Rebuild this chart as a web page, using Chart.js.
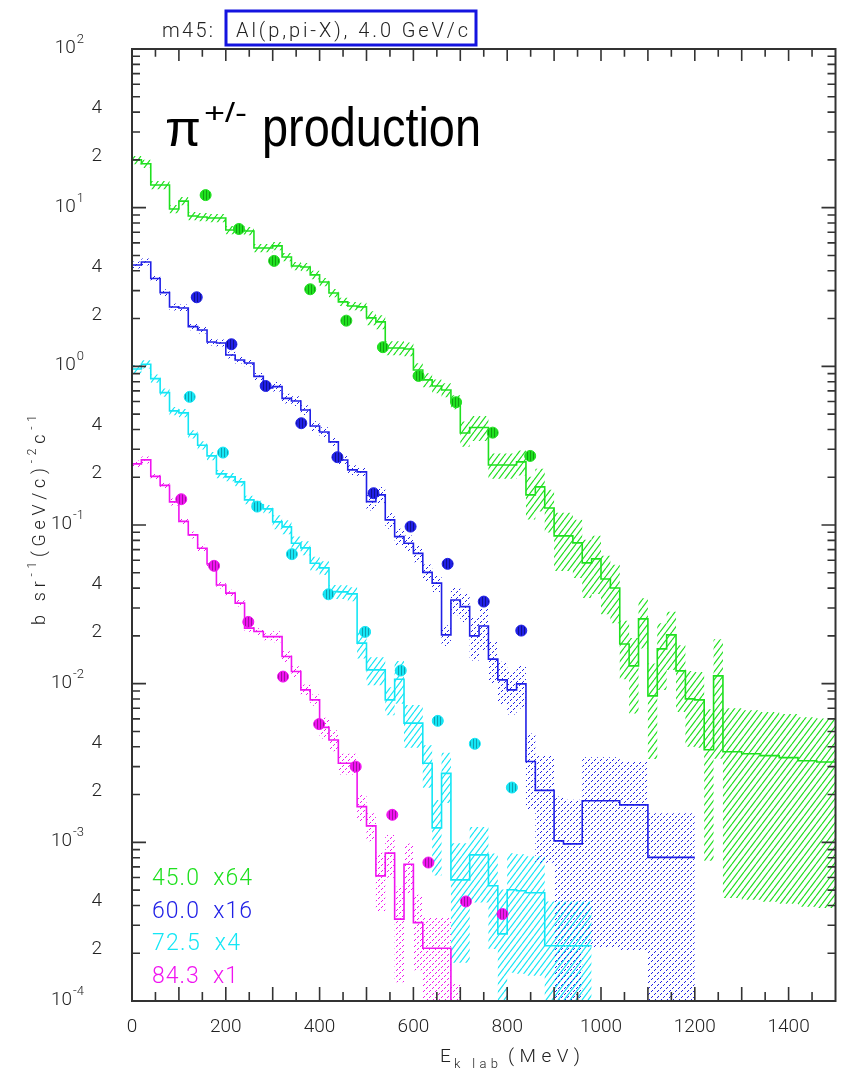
<!DOCTYPE html>
<html><head><meta charset="utf-8">
<script src="https://cdn.jsdelivr.net/npm/chart.js@4/dist/chart.umd.min.js"></script>
<style>html,body{margin:0;padding:0;background:#fff;}canvas{display:block;}</style>
</head><body>
<canvas id="c" width="842" height="1076"></canvas>
<script>
// ---------------- DATA ----------------
const xTickValues = [0, 200, 400, 600, 800, 1000, 1200, 1400];
const xTickLabels = ['0', '200', '400', '600', '800', '1000', '1200', '1400'];
const yDecadeExps = [-4, -3, -2, -1, 0, 1, 2];
const yMinorLabelMults = [2, 4];

const legendLabels = ['45.0  x64', '60.0  x16', '72.5  x4', '84.3  x1'];

// green: 45.0 deg x64
const greenEdges = [0,20,40,60,80,100,120,140,160,180,200,220,240,260,280,300,320,340,360,380,400,420,440,460,480,500,520,540,560,580,600,620,640,660,680,700,720,740,760,780,800,820,840,860,880,900,920,940,960,980,1000,1020,1040,1060,1080,1100,1120,1140,1160,1180,1200,1220,1240,1260,1300,1340,1380,1420,1460,1500];
const greenVals = [20.0,18.9,13.9,13.9,9.81,11.0,8.87,8.74,8.61,8.61,
  7.23,7.23,7.13,5.57,5.57,5.74,4.89,4.29,4.23,3.77,
  3.40,2.90,2.55,2.40,2.37,2.02,1.905,1.306,1.306,1.287,
  0.949,0.821,0.752,0.710,0.597,0.380,0.412,0.412,0.239,0.239,
  0.239,0.250,0.1548,0.1738,0.1281,0.0854,0.0854,0.0771,0.0577,0.0612,
  0.0457,0.0401,0.0178,0.01295,0.0256,0.00838,0.01657,0.0203,0.01204,0.00802,
  0.00790,0.00383,0.01120,0.00372,0.00362,0.00352,0.00342,0.00327,0.00321];
const greenErr = [0.06,0.06,0.06,0.06,0.06,0.06,0.06,0.06,0.06,0.06,
  0.06,0.06,0.06,0.06,0.06,0.06,0.06,0.06,0.06,0.06,
  0.06,0.06,0.06,0.06,0.06,0.1,0.1,0.1,0.1,0.1,
  0.1,0.1,0.1,0.1,0.1,0.18,0.18,0.18,0.18,0.18,
  0.18,0.18,0.3,0.3,0.3,0.4,0.4,0.4,0.4,0.4,
  0.4,0.4,0.4,0.5,0.35,0.6,0.45,0.4,0.45,0.5,
  0.5,0.8,0.7,0.88,0.88,0.88,0.88,0.88,0.88];
const greenPtsX = [157, 228, 303, 380, 457, 535, 611, 691, 769, 849];
const greenPtsY = [12.0, 7.34, 4.62, 3.06, 1.94, 1.32, 0.870, 0.594, 0.382, 0.2725];

// blue: 60.0 deg x16
const blueEdges = [0,20,40,60,80,100,120,140,160,180,200,220,240,260,280,300,320,340,360,380,400,420,440,460,480,500,520,540,560,580,600,620,640,660,680,700,720,740,760,780,800,820,840,860,880,900,920,940,960,980,1000,1020,1040,1060,1080,1100,1120,1140,1160,1180,1200];
const blueVals = [4.354,4.548,3.580,2.913,2.367,2.333,1.779,1.696,1.424,1.404,
  1.180,1.097,1.050,0.864,0.731,0.745,0.628,0.605,0.531,0.421,
  0.386,0.334,0.257,0.2225,0.2161,0.1404,0.1548,0.1077,0.0845,0.0768,
  0.0662,0.0503,0.0430,0.0203,0.0337,0.0306,0.0200,0.0231,0.01427,0.01056,
  0.00914,0.00997,0.00323,0.002126,0.002126,0.001022,0.000978,0.000978,0.001827,0.001827,
  0.001827,0.001827,0.001723,0.001723,0.001723,0.000804,0.000804,0.000804,0.000804,0.000804];
const blueErr = [0.05,0.05,0.05,0.05,0.05,0.05,0.05,0.05,0.05,0.05,
  0.05,0.05,0.05,0.05,0.05,0.07,0.07,0.07,0.07,0.07,
  0.07,0.07,0.07,0.07,0.07,0.12,0.12,0.12,0.12,0.12,
  0.12,0.12,0.12,0.15,0.2,0.2,0.3,0.3,0.3,0.3,
  0.3,0.3,0.5,0.65,0.65,0.9,0.9,0.9,0.88,0.88,
  0.88,0.88,0.88,0.88,0.88,0.9,0.9,0.9,0.9,0.9];
const bluePtsX = [138, 212, 285, 361, 438, 515, 594, 673, 750, 830];
const bluePtsY = [2.725, 1.378, 0.752, 0.438, 0.2675, 0.1586, 0.0977, 0.0569, 0.0329, 0.0216];

// cyan: 72.5 deg x4
const cyanEdges = [0,20,40,60,80,100,120,140,160,180,200,220,240,260,280,300,320,340,360,380,400,420,440,460,480,500,520,540,560,580,600,620,640,660,680,700,720,740,760,780,800,820,840,860,880,900,920,940,960,980];
const cyanVals = [0.963,1.031,0.837,0.683,0.5236,0.5086,0.3734,0.3183,0.2725,0.2099,
  0.2010,0.1869,0.1440,0.1339,0.1263,0.1046,0.0973,0.0768,0.0717,0.0574,
  0.0537,0.0380,0.0379,0.0368,0.0180,0.01222,0.01222,0.00790,0.01067,0.00564,
  0.00564,0.00315,0.001234,0.00272,0.000580,0.000580,0.000834,0.000834,0.000532,0.000265,
  0.000502,0.000495,0.000481,0.000481,0.000223,0.000223,0.000223,0.000223,0.000223];
const cyanErr = [0.06,0.06,0.06,0.06,0.06,0.06,0.06,0.06,0.06,0.06,
  0.06,0.06,0.06,0.06,0.06,0.1,0.1,0.1,0.1,0.1,
  0.1,0.1,0.1,0.1,0.2,0.2,0.2,0.2,0.3,0.3,
  0.3,0.3,0.5,0.35,0.7,0.7,0.5,0.5,0.6,0.9,
  0.7,0.7,0.7,0.7,0.9,0.9,0.9,0.9,0.9];
const cyanPtsX = [123, 194, 267, 341, 419, 497, 573, 652, 731, 810];
const cyanPtsY = [0.642, 0.286, 0.1306, 0.0655, 0.0366, 0.0212, 0.0121, 0.00583, 0.00418, 0.002215];

// magenta: 84.3 deg x1
const magentaEdges = [0,20,40,60,80,100,120,140,160,180,200,220,240,260,280,300,320,340,360,380,400,420,440,460,480,500,520,540,560,580,600,620,640,660,680,700];
const magentaVals = [0.2427,0.2572,0.2024,0.1776,0.1398,0.1054,0.0866,0.0714,0.0569,0.0419,
  0.0372,0.0322,0.0224,0.0213,0.0198,0.0198,0.01482,0.01192,0.00914,0.00790,
  0.00530,0.00442,0.00315,0.00315,0.00168,0.001270,0.000615,0.000855,0.000328,0.000727,
  0.000312,0.000215,0.000215,0.000215,0.00003];
const magentaErr = [0.05,0.05,0.05,0.05,0.05,0.05,0.05,0.05,0.05,0.05,
  0.05,0.05,0.05,0.05,0.05,0.08,0.08,0.08,0.08,0.08,
  0.15,0.15,0.15,0.15,0.2,0.2,0.4,0.3,0.6,0.35,
  0.5,0.55,0.55,0.55,3.3];
const magentaPtsX = [105, 175, 248, 322, 399, 477, 555, 632, 712, 790];
const magentaPtsY = [0.1454, 0.0553, 0.0245, 0.01108, 0.00556, 0.00300, 0.001491, 0.000746, 0.000424, 0.000353];

// ---------------- STYLE ----------------
const COL = { green:'#1fe01f', blue:'#2020e6', cyan:'#14e6f5', magenta:'#f014f0' };
const FONT = 'Roboto, "DejaVu Sans", sans-serif';

function makePattern(w, h, draw){
  const c=document.createElement('canvas'); c.width=w; c.height=h;
  draw(c.getContext('2d'));
  return document.createElement('canvas').getContext('2d').createPattern(c,'repeat');
}
function hatchPattern(color){
  return makePattern(6, 8, g=>{
    g.strokeStyle=color; g.lineWidth=1.2;
    for (const o of [-6,0,6]) { g.beginPath(); g.moveTo(o,8); g.lineTo(o+6,0); g.stroke(); }
  });
}
function dotPattern(color){
  return makePattern(6, 6, g=>{
    g.fillStyle=color;
    g.fillRect(0,4,1,1); g.fillRect(1,3,1,1);
    g.fillRect(3,1,1,1); g.fillRect(4,0,1,1);
  });
}
function stripePattern(color, dark){
  return makePattern(3, 3, g=>{
    g.fillStyle=color; g.fillRect(0,0,3,3);
    g.fillStyle=dark; g.fillRect(2,0,1,3);
  });
}

const series = [
  {edges:greenEdges, vals:greenVals, err:greenErr, px:greenPtsX, py:greenPtsY, color:COL.green, fill:hatchPattern(COL.green), dark:'#10a010'},
  {edges:blueEdges, vals:blueVals, err:blueErr, px:bluePtsX, py:bluePtsY, color:COL.blue, fill:dotPattern(COL.blue), dark:'#101090'},
  {edges:cyanEdges, vals:cyanVals, err:cyanErr, px:cyanPtsX, py:cyanPtsY, color:COL.cyan, fill:hatchPattern(COL.cyan), dark:'#10a0b0'},
  {edges:magentaEdges, vals:magentaVals, err:magentaErr, px:magentaPtsX, py:magentaPtsY, color:COL.magenta, fill:dotPattern(COL.magenta), dark:'#a010a0'}
];

function stepData(edges, vals, f){
  const pts=[];
  for (let i=0;i<vals.length;i++) pts.push({x:edges[i], y:f(vals[i], i)});
  const l=vals.length-1;
  pts.push({x:edges[edges.length-1], y:f(vals[l], l)});
  return pts;
}

const datasets=[];
series.forEach(s=>{
  datasets.push({data:stepData(s.edges,s.vals,(v,i)=>v*(1+s.err[i])), stepped:true, borderWidth:0, pointRadius:0, fill:false, order:5});
  datasets.push({data:stepData(s.edges,s.vals,(v,i)=>Math.max(v*(1-s.err[i]),1e-9)), stepped:true, borderWidth:0, pointRadius:0, fill:'-1', backgroundColor:s.fill, order:5});
});
series.forEach(s=>{
  datasets.push({data:stepData(s.edges,s.vals,v=>v), stepped:true, borderColor:s.color, borderWidth:1.6, pointRadius:0, fill:false, order:2});
});
series.forEach(s=>{
  datasets.push({data:s.px.map((x,i)=>({x:x, y:s.py[i]})), showLine:false, pointRadius:5.5, pointBorderWidth:1,
    pointBackgroundColor:stripePattern(s.color, s.dark), pointBorderColor:s.color, order:1});
});

// -------- text helpers --------
function spacedText(ctx, segs, x, y, targetW){
  const chars=[];
  segs.forEach(s=>{ ctx.font='300 '+s[1]+'px '+FONT;
    for (const ch of s[0]) chars.push({ch, size:s[1], dy:s[2], w:ctx.measureText(ch).width}); });
  const nat=chars.reduce((t,c)=>t+c.w,0);
  const extra = (targetW && chars.length>1) ? (targetW-nat)/(chars.length-1) : 0;
  let cx=x;
  chars.forEach(c=>{ ctx.font='300 '+c.size+'px '+FONT; ctx.fillText(c.ch, cx, y+c.dy); cx+=c.w+extra; });
}

const decor = {
  id:'decor',
  afterDraw(chart){
    const ctx=chart.ctx, xs=chart.scales.x, ys=chart.scales.y, a=chart.chartArea;
    ctx.save();
    ctx.strokeStyle='#333'; ctx.lineWidth=2;
    ctx.strokeRect(a.left, a.top, a.right-a.left, a.bottom-a.top);
    ctx.lineWidth=1.6; ctx.beginPath();
    for (let v=50; v<1500; v+=50){
      const p=xs.getPixelForValue(v); const L=(v%100===0)?14:9;
      ctx.moveTo(p,a.bottom); ctx.lineTo(p,a.bottom-L);
      ctx.moveTo(p,a.top); ctx.lineTo(p,a.top+L*0.85);
    }
    yDecadeExps.forEach(e=>{
      for (let k=1;k<=9;k++){
        if (e===2 && k>1) break;
        const v=k*Math.pow(10,e); const p=ys.getPixelForValue(v); const L=(k===1)?14:8;
        ctx.moveTo(a.left,p); ctx.lineTo(a.left+L,p);
        ctx.moveTo(a.right,p); ctx.lineTo(a.right-L,p);
      }
    });
    ctx.stroke();

    ctx.fillStyle='#222'; ctx.textBaseline='alphabetic'; ctx.textAlign='left';
    xTickValues.forEach((v,i)=>{
      ctx.font='300 19px '+FONT; const w=ctx.measureText(xTickLabels[i]).width;
      ctx.fillText(xTickLabels[i], xs.getPixelForValue(v)-w/2, a.bottom+31);
    });
    yDecadeExps.forEach(e=>{
      const p=ys.getPixelForValue(Math.pow(10,e));
      ctx.font='300 13px '+FONT; const we=ctx.measureText(String(e)).width;
      ctx.font='300 19px '+FONT; const w10=ctx.measureText('10').width;
      const xe=84-we;
      ctx.fillText('10', xe-w10-1, p+4);
      ctx.font='300 13px '+FONT; ctx.fillText(String(e), xe, p-6);
      if (e<2) yMinorLabelMults.forEach(m=>{
        const q=ys.getPixelForValue(m*Math.pow(10,e));
        ctx.font='300 19px '+FONT; const w=ctx.measureText(String(m)).width;
        ctx.fillText(String(m), 102-w, q+1);
      });
    });
    const lc=[COL.green, COL.blue, COL.cyan, COL.magenta];
    const lw=[100,100,88,86];
    legendLabels.forEach((t,i)=>{
      ctx.fillStyle=lc[i];
      spacedText(ctx, [[t,23,0]], 152, 885+i*32.5, lw[i]);
    });
    ctx.fillStyle='#222';
    // x title
    spacedText(ctx, [['E',19,0]], 440, 1062, 0);
    spacedText(ctx, [['k lab',13,0]], 454, 1068, 44);
    spacedText(ctx, [['(MeV)',19,0]], 508, 1062, 72);
    // y title, rotated, reading bottom to top
    ctx.save(); ctx.translate(45, 625); ctx.rotate(-Math.PI/2);
    spacedText(ctx, [['b sr',18,0],['-1',12,-9],['(GeV/c)',18,0],['-2',12,-9],['c',18,0],['-1',12,-9]], 0, 0, 210);
    ctx.restore();
    spacedText(ctx, [['m45:',20,0]], 162, 37, 51);
    ctx.strokeStyle='#1414e0'; ctx.lineWidth=3;
    ctx.strokeRect(226, 11, 250, 34);
    spacedText(ctx, [['Al(p,pi-X), 4.0 GeV/c',20,0]], 236, 37, 232);
    ctx.fillStyle='#000';
    ctx.font='50px "Liberation Sans", "DejaVu Sans", sans-serif';
    let w=ctx.measureText('\u03c0').width;
    ctx.save(); ctx.translate(165,146); ctx.scale(36/w,1); ctx.fillText('\u03c0',0,0); ctx.restore();
    ctx.font='28px "Liberation Sans", "DejaVu Sans", sans-serif';
    w=ctx.measureText('+/-').width;
    ctx.save(); ctx.translate(204,122); ctx.scale(43/w,1); ctx.fillText('+/-',0,0); ctx.restore();
    ctx.font='55px "Liberation Sans Narrow", "Liberation Sans", sans-serif';
    w=ctx.measureText('production').width;
    ctx.save(); ctx.translate(262,146); ctx.scale(219/w,1); ctx.fillText('production',0,0); ctx.restore();
    ctx.restore();
  }
};

new Chart(document.getElementById('c'), {
  type:'line',
  data:{datasets},
  options:{
    responsive:false, animation:false, devicePixelRatio:1,
    layout:{padding:{left:132, right:6, top:49, bottom:75}},
    elements:{line:{tension:0}},
    plugins:{legend:{display:false}, tooltip:{enabled:false}},
    scales:{
      x:{type:'linear', min:0, max:1500, display:false},
      y:{type:'logarithmic', min:1e-4, max:100, display:false}
    }
  },
  plugins:[decor]
});
</script>
</body></html>
